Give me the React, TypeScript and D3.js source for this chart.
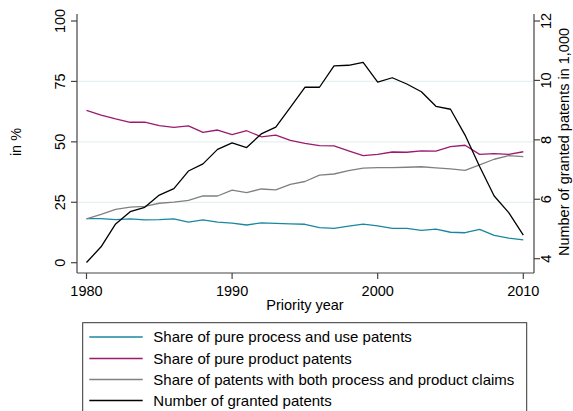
import React from "react";
import * as d3 from "d3";

const years = [1980, 1981, 1982, 1983, 1984, 1985, 1986, 1987, 1988, 1989, 1990, 1991, 1992, 1993, 1994, 1995, 1996, 1997, 1998, 1999, 2000, 2001, 2002, 2003, 2004, 2005, 2006, 2007, 2008, 2009, 2010];
const shareProcess = [18.2, 18.2, 17.8, 18.1, 17.7, 17.8, 18.1, 16.8, 17.7, 16.8, 16.4, 15.6, 16.5, 16.3, 16.1, 15.9, 14.5, 14.2, 15.1, 16.0, 15.2, 14.2, 14.2, 13.4, 13.9, 12.6, 12.4, 13.8, 11.3, 10.2, 9.4];
const shareProduct = [63.0, 61.1, 59.5, 58.1, 58.2, 56.7, 56.0, 56.6, 53.9, 54.9, 53.0, 54.6, 52.1, 52.8, 50.6, 49.4, 48.4, 48.3, 46.3, 44.3, 44.8, 45.8, 45.7, 46.3, 46.2, 48.0, 48.6, 44.8, 45.1, 44.8, 45.9];
const shareBoth = [18.1, 20.0, 22.1, 23.0, 23.3, 24.6, 25.1, 25.8, 27.6, 27.6, 30.0, 29.0, 30.5, 30.1, 32.4, 33.6, 36.2, 36.7, 38.1, 39.1, 39.3, 39.3, 39.5, 39.7, 39.2, 38.8, 38.2, 40.5, 42.8, 44.3, 43.9];
const granted = [3.87, 4.40, 5.17, 5.58, 5.73, 6.14, 6.36, 6.95, 7.19, 7.68, 7.90, 7.74, 8.20, 8.43, 9.09, 9.77, 9.77, 10.49, 10.51, 10.61, 9.94, 10.09, 9.88, 9.62, 9.13, 9.03, 8.16, 7.10, 6.11, 5.55, 4.79];

const xTicks = [1980, 1990, 2000, 2010];
const leftTicks = [0, 25, 50, 75, 100];
const leftGrid = [25, 50, 75];
const rightTicks = [4, 6, 8, 10, 12];

const legendLabels = [
  "Share of pure process and use patents",
  "Share of pure product patents",
  "Share of patents with both process and product claims",
  "Number of granted patents",
];
const colors = ["#1a87a0", "#9c1a6e", "#808080", "#000000"];

const FONT = "'Liberation Sans', Arial, Helvetica, sans-serif";

export default function App() {
  const x = d3.scaleLinear().domain([1980, 2010]).range([86.5, 523.3]);
  const yL = d3.scaleLinear().domain([0, 100]).range([262.7, 21]);
  const yR = d3.scaleLinear().domain([3.865, 12]).range([262.7, 21]);

  const lineL = d3.line<number>().x((_, i) => x(years[i])).y((d) => yL(d));
  const lineR = d3.line<number>().x((_, i) => x(years[i])).y((d) => yR(d));

  const axisColor = "#444";
  const plotLeft = 77;
  const plotRight = 534;
  const plotBottom = 273;
  const plotTop = 14;

  const series = [
    lineL(shareProcess),
    lineL(shareProduct),
    lineL(shareBoth),
    lineR(granted),
  ];

  const legendRowY = [337, 358.5, 379.5, 400.5];

  return (
    <svg
      width={573}
      height={411}
      style={{ position: "absolute", left: 0, top: 0, background: "#fff" }}
      fontFamily={FONT}
    >
      <rect x={0} y={0} width={573} height={411} fill="#fff" />
      {leftGrid.map((t) => (
        <line key={"g" + t} x1={plotLeft} x2={plotRight} y1={yL(t)} y2={yL(t)} stroke="#e6eff1" strokeWidth={1.3} />
      ))}
      {series.map((d, i) => (
        <path key={"s" + i} d={d || ""} fill="none" stroke={colors[i]} strokeWidth={1.3} strokeLinejoin="round" />
      ))}
      <line x1={plotLeft} x2={plotLeft} y1={plotTop} y2={plotBottom} stroke={axisColor} strokeWidth={1.2} />
      {leftTicks.map((t) => (
        <g key={"lt" + t}>
          <line x1={plotLeft - 6} x2={plotLeft} y1={yL(t)} y2={yL(t)} stroke={axisColor} strokeWidth={1.2} />
          <text
            transform={`translate(${plotLeft - 12},${yL(t)}) rotate(-90)`}
            textAnchor="middle"
            fontSize={14.5}
            fill="#000"
          >
            {t}
          </text>
        </g>
      ))}
      <text transform={`translate(21,142) rotate(-90)`} textAnchor="middle" fontSize={14.5} fill="#000">
        in %
      </text>
      <line x1={plotRight} x2={plotRight} y1={plotTop} y2={plotBottom} stroke={axisColor} strokeWidth={1.2} />
      {rightTicks.map((t) => (
        <g key={"rt" + t}>
          <line x1={plotRight} x2={plotRight + 6} y1={yR(t)} y2={yR(t)} stroke={axisColor} strokeWidth={1.2} />
          <text
            transform={`translate(${plotRight + 17},${yR(t)}) rotate(-90)`}
            textAnchor="middle"
            fontSize={14.5}
            fill="#000"
          >
            {t}
          </text>
        </g>
      ))}
      <text transform={`translate(569,142) rotate(-90)`} textAnchor="middle" fontSize={14.5} fill="#000">
        Number of granted patents in 1,000
      </text>
      <line x1={plotLeft} x2={plotRight} y1={plotBottom} y2={plotBottom} stroke={axisColor} strokeWidth={1.2} />
      {xTicks.map((t) => (
        <g key={"xt" + t}>
          <line x1={x(t)} x2={x(t)} y1={plotBottom} y2={plotBottom + 6} stroke={axisColor} strokeWidth={1.2} />
          <text x={x(t)} y={plotBottom + 23} textAnchor="middle" fontSize={14.5} fill="#000">
            {t}
          </text>
        </g>
      ))}
      <text x={305} y={310} textAnchor="middle" fontSize={14.5} fill="#000">
        Priority year
      </text>
      <rect x={82.7} y={322.7} width={444} height={100} fill="#fff" stroke="#333" strokeWidth={1} />
      {legendLabels.map((lab, i) => (
        <g key={"lg" + i}>
          <line x1={89.3} x2={142.7} y1={legendRowY[i]} y2={legendRowY[i]} stroke={colors[i]} strokeWidth={1.3} />
          <text x={153.3} y={legendRowY[i] + 5.2} fontSize={15} fill="#000">
            {lab}
          </text>
        </g>
      ))}
    </svg>
  );
}
